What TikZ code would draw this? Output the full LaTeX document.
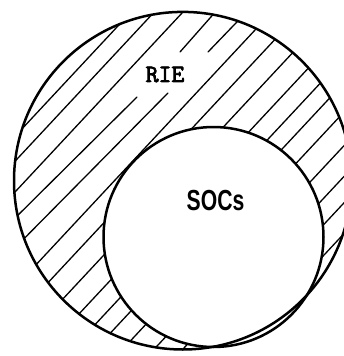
\documentclass[tikz,border=0pt]{standalone}
\usepackage{fontspec}
\usepackage{graphicx}
\newfontfamily\labelsans{Liberation Sans}
\newfontfamily\labeltt[FakeBold=3]{Latin Modern Mono}
\tikzset{
  hatch/.style={line width=1.3pt, line cap=round},
  ring/.style={line width=2.5pt},
  lbl/.style={inner sep=0pt, anchor=center}
}
\begin{document}
\begin{tikzpicture}[x=1pt,y=-1pt]
\useasboundingbox (0,0) rectangle (344,356);
\fill[white] (0,0) rectangle (344,356);
\clip (0,0) rectangle (344,356);
\coordinate (oc) at (182.8,180.7);
\coordinate (ic) at (213.5,237);
% hatching in the ring
\begin{scope}[even odd rule]
  \clip (oc) circle (168.8);
  \clip (-20,-20) rectangle (380,380) (ic) circle (110);
  \foreach \v in {104,121,142,207,228,250,272,291,308,328,351,372,390,411}
    \draw[hatch] ({0.731*\v-300*0.682},{0.682*\v+300*0.731}) -- ({0.731*\v+300*0.682},{0.682*\v-300*0.731});
  % lines broken round the label
  \coordinate (a1) at (0,233); \coordinate (a2) at (137,97);
  \coordinate (a3) at (180,52); \coordinate (a4) at (240,-16);
  \coordinate (b1) at (0,263); \coordinate (b2) at (168,93);
  \coordinate (b3) at (208,52); \coordinate (b4) at (260,-2);
  \draw[hatch] (a1) -- (a2);
  \draw[hatch] (a3) -- (a4);
  \draw[hatch] (b1) -- (b2);
  \draw[hatch] (b3) -- (b4);
\end{scope}
\draw[ring] (oc) circle (168.8);
\draw[ring] (ic) circle (110);
\node[lbl] (rie) at (165,74.5) {\fontsize{25}{25}\labeltt RIE};
\node[lbl] (socs) at (215.5,201) {\scalebox{0.73}[1]{\fontsize{29}{29}\labelsans\bfseries SOCs}};
\end{tikzpicture}
\end{document}
